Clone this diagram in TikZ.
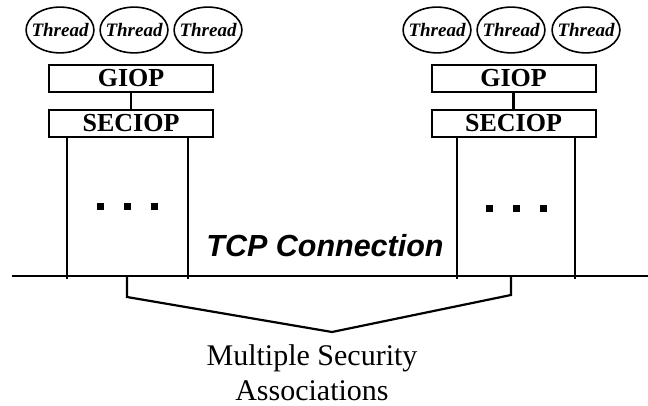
\documentclass[tikz,border=0pt]{standalone}
\usepackage{fontspec}
\setmainfont{Liberation Serif}
\newfontfamily\tcpfont{Liberation Sans}
\usetikzlibrary{shapes.geometric}
\begin{document}
\begin{tikzpicture}[x=1pt,y=-1pt,
  line width=2.2pt,
  thread/.style={ellipse,draw,line width=1.6pt,inner xsep=-4.5pt,inner ysep=9.5pt,
    font=\fontsize{19}{19}\selectfont\bfseries\itshape},
  layerbox/.style={rectangle,draw,line width=2pt,minimum width=164pt,minimum height=27pt,inner sep=0pt,
    font=\fontsize{26}{26}\selectfont\bfseries},
  sqdot/.style={rectangle,fill=black,minimum size=7pt,inner sep=0pt},
  lbl/.style={inner sep=0pt}]
\useasboundingbox (0,0) rectangle (648,406);
% threads
\node[thread] (t1) at (60,30) {Thread};
\node[thread] (t2) at (134,30) {Thread};
\node[thread] (t3) at (208,30) {Thread};
\node[thread] (t4) at (437,30) {Thread};
\node[thread] (t5) at (511,30) {Thread};
\node[thread] (t6) at (586,30) {Thread};
% layers
\node[layerbox] (g1) at (131,78.5) {GIOP};
\node[layerbox] (s1) at (131,123.5) {SECIOP};
\node[layerbox] (g2) at (513.5,78.5) {GIOP};
\node[layerbox] (s2) at (513.5,123.5) {SECIOP};
\draw (g1) -- (s1);
\draw (g2) -- (s2);
% vertical lines
\coordinate (a1) at (67,279); \coordinate (b1) at (188,279);
\coordinate (a2) at (457,279); \coordinate (b2) at (575,279);
\draw (s1.south -| a1) -- (a1);
\draw (s1.south -| b1) -- (b1);
\draw (s2.south -| a2) -- (a2);
\draw (s2.south -| b2) -- (b2);
% dots
\node[sqdot] (d1) at (100,207) {};
\node[sqdot] (d2) at (127,207) {};
\node[sqdot] (d3) at (154,207) {};
\node[sqdot] (d4) at (489,209) {};
\node[sqdot] (d5) at (516,209) {};
\node[sqdot] (d6) at (543,209) {};
% TCP line
\coordinate (lw) at (12,276);
\coordinate (le) at (648,276);
\draw (lw) -- (le);
\node[lbl,anchor=base,font=\fontsize{30.5}{30.5}\selectfont\tcpfont\bfseries\itshape] (tcp) at (325,256) {TCP Connection};
% bracket
\coordinate (k1) at (127,276);
\coordinate (k2) at (127,297);
\coordinate (apex) at (332,332);
\coordinate (k3) at (511,295);
\coordinate (k4) at (511,276);
\draw[line join=miter] (k1) -- (k2) -- (apex) -- (k3) -- (k4);
\node[lbl,anchor=base,align=center,font=\fontsize{30}{35}\selectfont] (msa) at (312,400) {Multiple Security\\Associations};
\end{tikzpicture}
\end{document}
